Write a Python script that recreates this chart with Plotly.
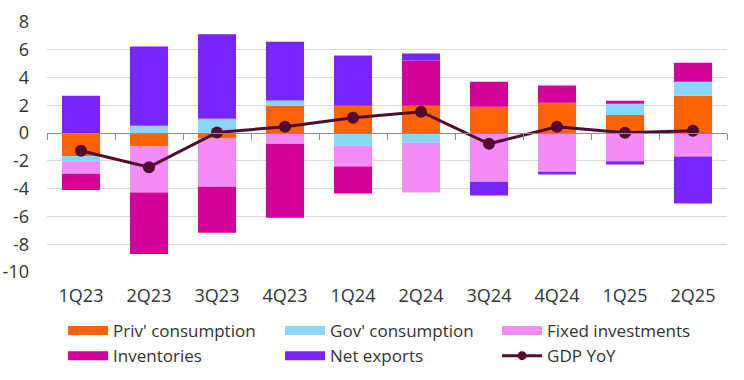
import plotly.graph_objects as go

quarters = ["1Q23", "2Q23", "3Q23", "4Q23", "1Q24", "2Q24", "3Q24", "4Q24", "1Q25", "2Q25"]
priv_cons = [-1.64, -0.96, -0.38, 1.97, 1.97, 1.97, 1.90, 2.19, 1.30, 2.69]
gov_cons = [-0.38, 0.53, 1.03, 0.38, -0.91, -0.70, 0.0, -0.07, 0.82, 1.01]
fixed_inv = [-0.91, -3.32, -3.49, -0.77, -1.50, -3.58, -3.51, -2.72, -2.02, -1.68]
inventories = [-1.16, -4.43, -3.30, -5.32, -1.94, 3.25, 1.80, 1.23, 0.21, 1.37]
net_exports = [2.69, 5.70, 6.09, 4.23, 3.61, 0.51, -0.99, -0.19, -0.24, -3.39]
gdp_yoy = [-1.27, -2.45, 0.05, 0.46, 1.11, 1.54, -0.77, 0.46, 0.02, 0.17]

y_range = [-10, 8]
y_ticks = [8, 6, 4, 2, 0, -2, -4, -6, -8, -10]
y_ticktext = [str(v) for v in y_ticks]

series = [
    ("Priv' consumption", priv_cons, "#FF6200"),
    ("Gov' consumption", gov_cons, "#89D6F9"),
    ("Fixed investments", fixed_inv, "#F48CF7"),
    ("Inventories", inventories, "#D20098"),
    ("Net exports", net_exports, "#7724FF"),
]
gdp_color = "#520A30"
FONT = "Open Sans, DejaVu Sans, sans-serif"
TXT = "#333333"

fig = go.Figure()
for name, vals, col in series:
    fig.add_trace(go.Bar(x=quarters, y=vals, name=name, marker=dict(color=col, line=dict(width=0)),
                         showlegend=False))
fig.add_trace(go.Scatter(x=quarters, y=gdp_yoy, name="GDP YoY", mode="lines+markers",
                         line=dict(color=gdp_color, width=3), marker=dict(color=gdp_color, size=12),
                         showlegend=False))
# legend-only entries (wide swatches)
for name, vals, col in series:
    fig.add_trace(go.Scatter(x=[None], y=[None], name=name, mode="lines",
                             line=dict(color=col, width=9)))
fig.add_trace(go.Scatter(x=[None], y=[None], name="GDP YoY", mode="lines+markers",
                         line=dict(color=gdp_color, width=3), marker=dict(color=gdp_color, size=9)))
# invisible trace for zero-line axis with boundary ticks
fig.add_trace(go.Scatter(x=quarters, y=[None] * len(quarters), xaxis="x2", showlegend=False,
                         hoverinfo="skip"))

zero_pos = (0 - y_range[0]) / (y_range[1] - y_range[0])

fig.update_layout(
    width=744, height=380,
    margin=dict(l=47, r=17, t=22, b=108, autoexpand=False),
    paper_bgcolor="white", plot_bgcolor="white",
    barmode="relative", bargap=0.44,
    font=dict(family=FONT, size=17, color=TXT),
    xaxis=dict(type="category", categoryarray=quarters, range=[-0.5, len(quarters) - 0.5],
               showgrid=False, showline=False, ticks="", ticklabelstandoff=11,
               tickfont=dict(size=18, color=TXT)),
    xaxis2=dict(type="category", categoryarray=quarters, range=[-0.5, len(quarters) - 0.5],
                overlaying="x", anchor="free", position=zero_pos, side="bottom",
                showline=True, linecolor="#8c8c8c", linewidth=1,
                ticks="outside", tickson="boundaries", ticklen=6, tickcolor="#8c8c8c",
                showticklabels=False, showgrid=False),
    yaxis=dict(range=y_range, tickvals=y_ticks, ticktext=y_ticktext,
               showgrid=True, gridcolor="#d9d9d9", gridwidth=1,
               zeroline=False, showline=False, ticks="", ticklabelstandoff=17,
               tickfont=dict(size=18, color=TXT)),
    legend=dict(orientation="h", x=0.0236, xanchor="left", y=-0.164, yanchor="top",
                entrywidth=162, entrywidthmode="pixels", itemwidth=40,
                font=dict(size=17, color=TXT), tracegroupgap=0, bgcolor="rgba(0,0,0,0)"),
    showlegend=True,
)

fig.write_html("out.html", config={"displayModeBar": False},
               post_script="document.body.style.margin='0';")
